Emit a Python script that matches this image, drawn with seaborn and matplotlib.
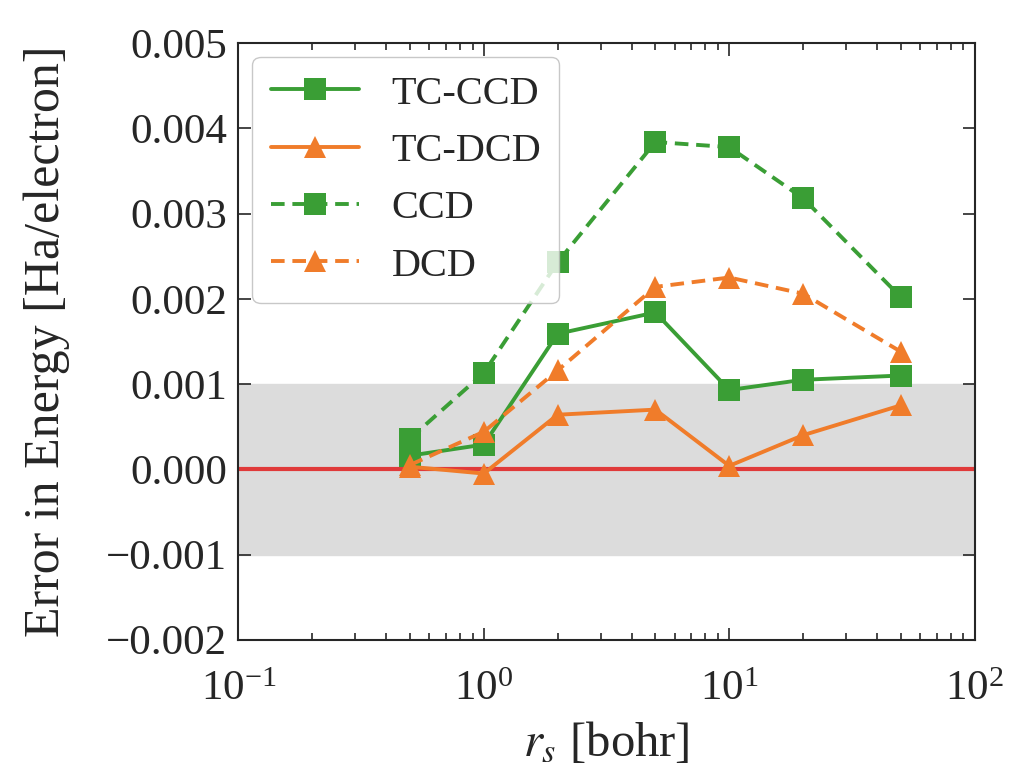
import numpy as np
import pandas as pd
import seaborn as sns
import matplotlib.pyplot as plt

rs = [0.5, 1, 2, 5, 10, 20, 50]
tc_ccd = [0.00016, 0.00029, 0.00159, 0.00184, 0.00093, 0.00105, 0.00110]
tc_dcd = [0.00003, -0.00005, 0.00064, 0.00070, 0.00004, 0.00040, 0.00075]
ccd = [0.00036, 0.00113, 0.00243, 0.00384, 0.00378, 0.00318, 0.00202]
dcd = [0.00005, 0.00044, 0.00116, 0.00214, 0.00225, 0.00206, 0.00138]

labels = ['TC-CCD', 'TC-DCD', 'CCD', 'DCD']
series = [tc_ccd, tc_dcd, ccd, dcd]

df = pd.concat([pd.DataFrame({'rs': rs, 'err': s, 'method': lab})
                for lab, s in zip(labels, series)], ignore_index=True)

sns.set_style('ticks')
plt.rcParams['font.family'] = ['Liberation Serif', 'DejaVu Serif']
plt.rcParams['mathtext.fontset'] = 'stix'

green = '#3a9e35'
orange = '#f07c2a'
palette = {'TC-CCD': green, 'TC-DCD': orange, 'CCD': green, 'DCD': orange}
dashes = {'TC-CCD': '', 'TC-DCD': '', 'CCD': (3.5, 2), 'DCD': (3.5, 2)}
markers = {'TC-CCD': 's', 'TC-DCD': '^', 'CCD': 's', 'DCD': '^'}

fig = plt.figure(figsize=(10.1, 7.84), dpi=100)
ax = fig.add_axes([0.236, 0.184, 0.729, 0.761])

ax.axhspan(-0.001, 0.001, color='#dcdcdc', zorder=0)
ax.axhline(0, color='#e03a3a', lw=3, zorder=1)

sns.lineplot(data=df, x='rs', y='err', hue='method', style='method',
             palette=palette, dashes=dashes, markers=markers,
             hue_order=labels, style_order=labels,
             lw=2.8, markersize=16, markeredgewidth=0, ax=ax, zorder=3)

ax.set_xscale('log')
ax.set_xlim(0.1, 100)
ax.set_ylim(-0.002, 0.005)
ax.set_yticks(np.arange(-0.002, 0.0051, 0.001))
ax.set_yticklabels(['\u22120.002', '\u22120.001', '0.000', '0.001', '0.002',
                    '0.003', '0.004', '0.005'])
ax.tick_params(which='both', direction='in', top=True, right=True,
               labelsize=31, width=1.2)
ax.tick_params(which='major', length=9, pad=8)
ax.tick_params(axis='x', which='major', pad=22)
ax.tick_params(which='minor', length=5)
for sp in ax.spines.values():
    sp.set_linewidth(1.5)

ax.set_xlabel(r'$r_s$ [bohr]', fontsize=35, labelpad=8)
ax.set_ylabel('Error in Energy [Ha/electron]', fontsize=36, labelpad=26)

ax.legend(loc='upper left', fontsize=29, handlelength=2.2, frameon=True,
          fancybox=True, edgecolor='#bbbbbb', borderpad=0.45,
          labelspacing=0.5, handletextpad=0.8, borderaxespad=0.35)

fig.savefig('out.png', dpi=100)
